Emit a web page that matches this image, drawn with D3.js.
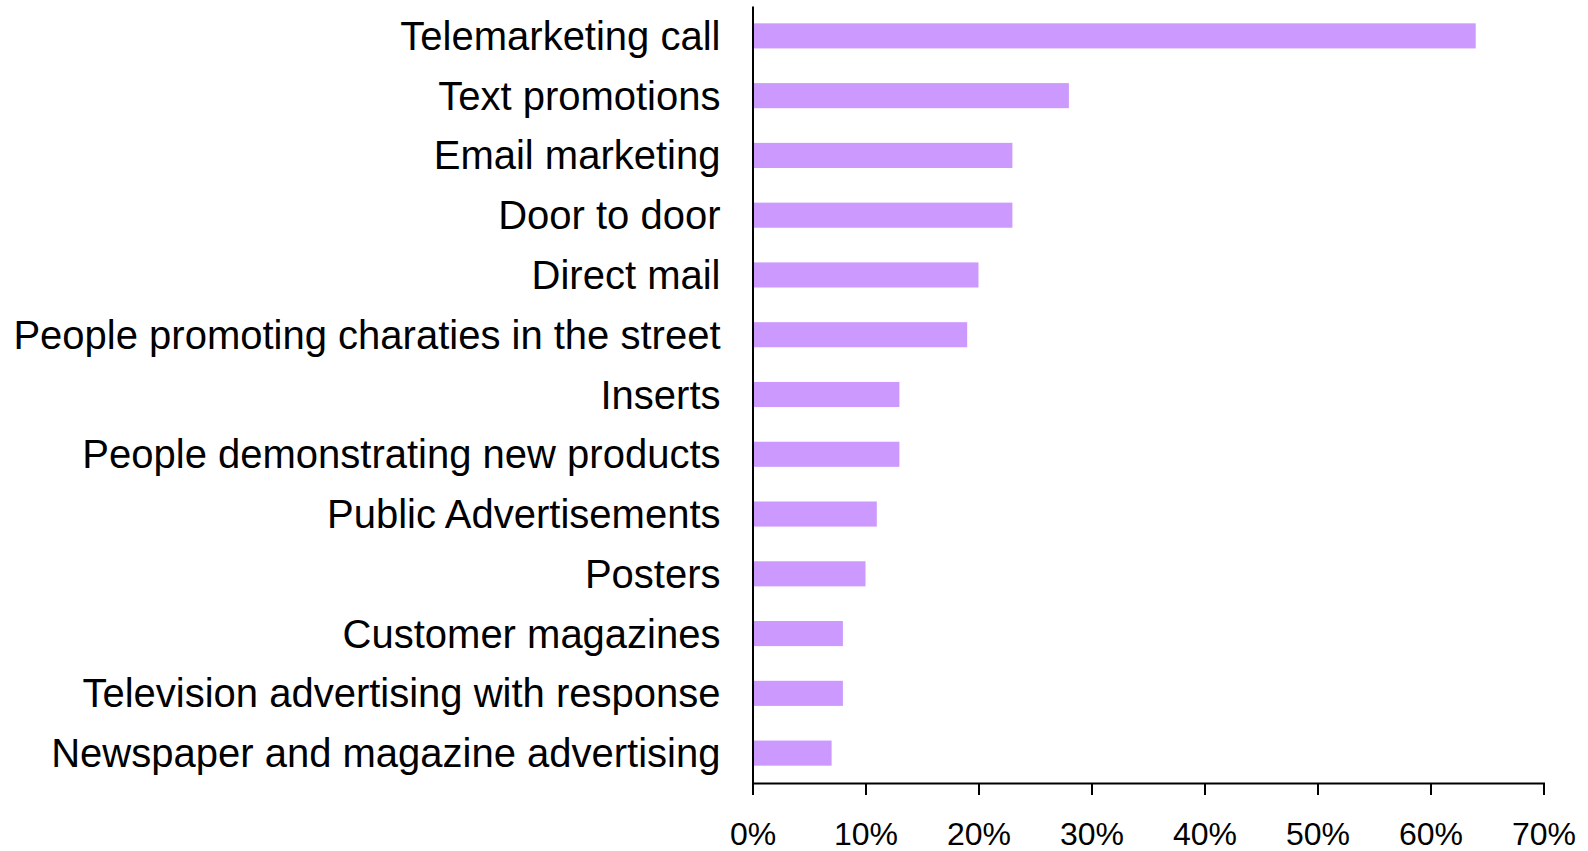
<!DOCTYPE html>
<html>
<head>
<meta charset="utf-8">
<script src="https://cdn.jsdelivr.net/npm/d3@7"></script>
<style>
  html, body { margin: 0; padding: 0; background: #ffffff; }
  svg { display: block; }
  text { font-family: "Liberation Sans", Arial, sans-serif; fill: #000; }
</style>
</head>
<body>
<svg id="chart" width="1588" height="851"></svg>
<script>
// Channels people report being approached through (share of respondents)
const categories = [
  "Telemarketing call",
  "Text promotions",
  "Email marketing",
  "Door to door",
  "Direct mail",
  "People promoting charaties in the street",
  "Inserts",
  "People demonstrating new products",
  "Public Advertisements",
  "Posters",
  "Customer magazines",
  "Television advertising with response",
  "Newspaper and magazine advertising"
];
const values = [0.64, 0.28, 0.23, 0.23, 0.20, 0.19, 0.13, 0.13, 0.11, 0.10, 0.08, 0.08, 0.07];
const tickValues = [0, 0.1, 0.2, 0.3, 0.4, 0.5, 0.6, 0.7];

const svg = d3.select("#chart");
const plotLeft = 752.5, plotRight = 1543.5, plotTop = 6, plotBottom = 783;

const x = d3.scaleLinear().domain([0, 0.7]).range([plotLeft, plotRight]);
const y = d3.scaleBand()
  .domain(categories)
  .range([plotTop, plotBottom])
  .paddingInner(0.58)
  .paddingOuter(0.29);

// Bars
svg.append("g")
  .selectAll("rect")
  .data(values)
  .join("rect")
  .attr("x", x(0))
  .attr("y", (d, i) => y(categories[i]))
  .attr("width", d => x(d) - x(0))
  .attr("height", y.bandwidth())
  .attr("fill", "#cc99ff");

// Category axis (line plus labels)
const yAxis = svg.append("g")
  .attr("transform", `translate(${plotLeft},0)`)
  .call(d3.axisLeft(y).tickSize(0).tickSizeOuter(0).tickPadding(32));
yAxis.select(".domain").attr("stroke", "#000").attr("stroke-width", 2);
yAxis.selectAll("text")
  .attr("font-family", "'Liberation Sans', Arial, sans-serif")
  .attr("font-size", "40px")
  .attr("fill", "#000")
  .attr("dy", "0.35em");

// Percentage axis
const xAxis = svg.append("g")
  .attr("transform", `translate(0,${plotBottom})`)
  .call(d3.axisBottom(x)
    .tickValues(tickValues)
    .tickFormat(d3.format(".0%"))
    .tickSize(12)
    .tickSizeOuter(12)
    .tickPadding(27));
xAxis.select(".domain").attr("stroke", "#000").attr("stroke-width", 2);
xAxis.selectAll(".tick line").attr("stroke", "#000").attr("stroke-width", 2);
xAxis.selectAll("text")
  .attr("font-family", "'Liberation Sans', Arial, sans-serif")
  .attr("font-size", "32px")
  .attr("fill", "#000");
</script>
</body>
</html>
